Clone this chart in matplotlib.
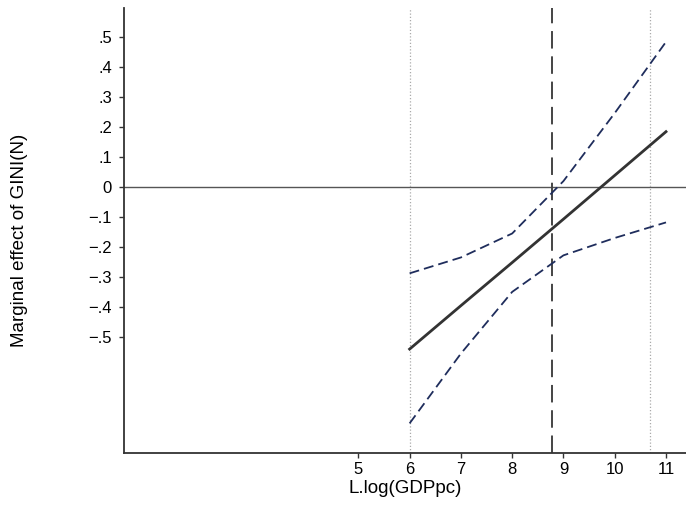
import matplotlib
matplotlib.use("Agg")
import matplotlib.pyplot as plt

#-------------------#
# Data
#-------------------#
gdp = [6, 7, 8, 9, 10, 11]
effect = [-0.541, -0.396, -0.252, -0.107, 0.039, 0.185]
ci_low = [-0.789, -0.556, -0.350, -0.228, -0.170, -0.118]
ci_high = [-0.288, -0.235, -0.155, 0.020, 0.247, 0.485]

mean_gdp = 8.77
range_lo = 6.0
range_hi = 10.68

xticks = [5, 6, 7, 8, 9, 10, 11]
yticks = [0.5, 0.4, 0.3, 0.2, 0.1, 0.0, -0.1, -0.2, -0.3, -0.4, -0.5]
ylabels = [".5", ".4", ".3", ".2", ".1", "0", "\u2212.1", "\u2212.2", "\u2212.3", "\u2212.4", "\u2212.5"]

#-------------------#
# Style
#-------------------#
plt.rcParams['font.family'] = ['Liberation Sans', 'DejaVu Sans']
axc = '#333333'

fig = plt.figure(figsize=(6.86, 5.08), dpi=100)
ax = fig.add_axes([124/686., 54.7/508., 1 - 124/686., (453.3 - 8)/508.])

# reference lines
ax.axhline(0, color='#555555', lw=1.0, zorder=1)
ax.axvline(range_lo, color='#aaaaaa', lw=0.9, ls=(0, (1, 1.6)), zorder=1)
ax.axvline(range_hi, color='#aaaaaa', lw=0.9, ls=(0, (1, 1.6)), zorder=1)
ax.axvline(mean_gdp, color='#444444', lw=1.4, ls=(0, (9, 4)), zorder=2)

# marginal effect and CI
ax.plot(gdp, effect, color='#333333', lw=2.0, zorder=4)
ax.plot(gdp, ci_high, color='#1f2d5c', lw=1.3, ls=(0, (5.5, 2.8)), zorder=3)
ax.plot(gdp, ci_low, color='#1f2d5c', lw=1.3, ls=(0, (5.5, 2.8)), zorder=3)

ax.set_xlim(0.43, 11.39)
ax.set_ylim(-0.889, 0.598)

ax.set_xticks(xticks)
ax.set_xticklabels([str(v) for v in xticks])
ax.set_yticks(yticks)
ax.set_yticklabels(ylabels)

for s in ['top', 'right']:
	ax.spines[s].set_visible(False)
for s in ['left', 'bottom']:
	ax.spines[s].set_color(axc)
	ax.spines[s].set_linewidth(1.3)

ax.tick_params(axis='both', direction='out', length=3.6, width=1.0, color=axc,
		labelsize=12, labelcolor='black')
ax.tick_params(axis='x', pad=3)
ax.tick_params(axis='y', pad=5)

ax.set_xlabel('L.log(GDPpc)', fontsize=13.5, labelpad=2)
fig.text(20/686., 1 - 240/508., 'Marginal effect of GINI(N)', rotation=90,
		fontsize=13.5, ha='center', va='center')

fig.savefig('out.png', dpi=100)
